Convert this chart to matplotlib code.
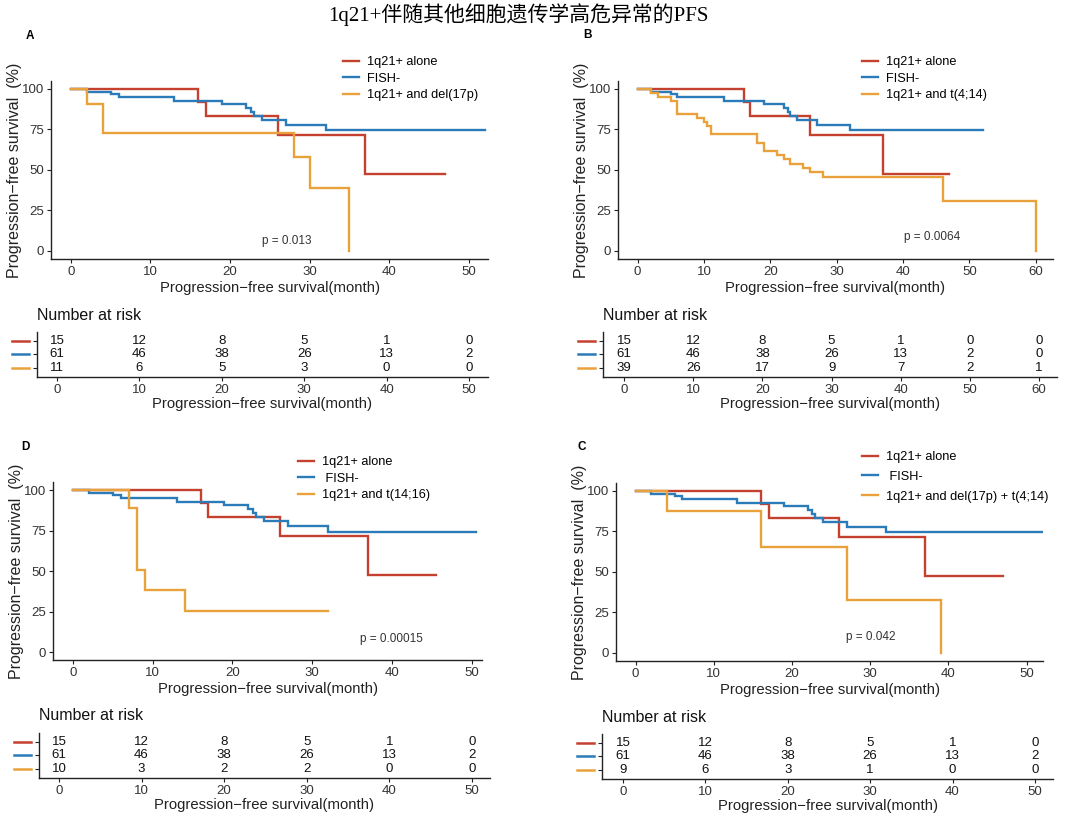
import matplotlib
matplotlib.use('Agg')
import matplotlib.pyplot as plt
from matplotlib.lines import Line2D

plt.rcParams['font.family'] = ['Liberation Sans', 'DejaVu Sans']

# ---- data ----
# shared curves (same in every panel)
t_alone = [0, 16, 17, 26, 37, 47]
s_alone = [100, 91.7, 83.3, 71.4, 47.6, 47.6]
t_fish = [0, 2, 5, 6, 13, 19, 22, 22.6, 23, 24, 27, 32, 52]
s_fish = [100, 98.4, 96.7, 94.9, 92.8, 90.5, 88.2, 85.8, 83.3, 80.6, 77.9, 74.4, 74.4]

# A: del(17p)
t_a = [0, 2, 4, 28, 30, 35]
s_a = [100, 90.9, 72.7, 58.2, 38.8, 0]
# B: t(4;14)
t_b = [0, 2, 3, 5, 6, 9, 10, 10.5, 11, 18, 19, 21, 22, 23, 25, 26, 28, 46, 60]
s_b = [100, 97.4, 94.9, 92.3, 84.6, 82.1, 79.5, 76.9, 72.2, 66.3, 61.6, 58.9, 56.4,
       53.4, 51.3, 48.7, 45.8, 30.5, 0]
# D: t(14;16)
t_d = [0, 7, 8, 9, 14, 32]
s_d = [100, 88.9, 50.8, 38.1, 25.4, 25.4]
t_alone_d = [0, 16, 17, 26, 37, 45.5]
t_fish_d = [0, 2, 5, 6, 13, 19, 22, 22.6, 23, 24, 27, 32, 50.5]
# C: del(17p) + t(4;14)
t_c = [0, 4, 16, 27, 39]
s_c = [100, 87.5, 65.6, 32.8, 0]

# numbers at risk
ticks50 = [0, 10, 20, 30, 40, 50]
ticks60 = [0, 10, 20, 30, 40, 50, 60]
risk_alone = [15, 12, 8, 5, 1, 0]
risk_fish = [61, 46, 38, 26, 13, 2]
risk_alone_b = [15, 12, 8, 5, 1, 0, 0]
risk_fish_b = [61, 46, 38, 26, 13, 2, 0]
risk_a = [11, 6, 5, 3, 0, 0]
risk_b = [39, 26, 17, 9, 7, 2, 1]
risk_d = [10, 3, 2, 2, 0, 0]
risk_c = [9, 6, 3, 1, 0, 0]

labels_a = ['1q21+ alone', 'FISH-', '1q21+ and del(17p)']
labels_b = ['1q21+ alone', 'FISH-', '1q21+ and t(4;14)']
labels_d = ['1q21+ alone', ' FISH-', '1q21+ and t(14;16)']
labels_c = ['1q21+ alone', ' FISH-', '1q21+ and del(17p) + t(4;14)']

RED, BLUE, ORANGE = '#C4402F', '#2C7BB9', '#E9A23B'
colors = [RED, BLUE, ORANGE]
TXT = '#333333'

W, H = 1080, 818
fig = plt.figure(figsize=(10.8, 8.18), dpi=100)


def box(l, t, r, b):
    return [l / W, 1 - b / H, (r - l) / W, (b - t) / H]


def style(ax):
    for s in ['top', 'right']:
        ax.spines[s].set_visible(False)
    for s in ['left', 'bottom']:
        ax.spines[s].set_color('#222222')
        ax.spines[s].set_linewidth(1.0)
    ax.tick_params(length=3, width=0.8, color='#222222', labelcolor=TXT, pad=2)


def km_panel(rect, curves, xlim, xticks, labels, leg_xy, lspace, ptxt, pxy,
             letter, letter_xy):
    ax = fig.add_axes(box(*rect))
    for (t, s), c in zip(curves, colors):
        ax.step(t, s, where='post', color=c, lw=1.7, solid_joinstyle='miter')
    ax.set_xlim(*xlim)
    ax.set_ylim(-5, 105)
    ax.set_xticks(xticks)
    ax.set_yticks([0, 25, 50, 75, 100])
    style(ax)
    ax.tick_params(labelsize=9.5)
    ax.set_xlabel('Progression\u2212free survival(month)', fontsize=10.7, labelpad=2,
                  color='#222222')
    ax.set_ylabel('Progression\u2212free survival  (%)', fontsize=11.5, labelpad=0,
                  color='#222222')
    ax.text(pxy[0], pxy[1], ptxt, fontsize=8.5, color=TXT, ha='center', va='center')
    handles = [Line2D([], [], color=c, lw=1.7) for c in colors]
    ax.legend(handles, labels, loc='upper left', bbox_to_anchor=(leg_xy[0] / W, 1 - leg_xy[1] / H),
              bbox_transform=fig.transFigure, frameon=False, fontsize=9.2,
              handlelength=1.25, handletextpad=0.6, labelspacing=lspace,
              borderpad=0, borderaxespad=0)
    fig.text(letter_xy[0] / W, 1 - letter_xy[1] / H, letter, fontsize=8.5,
             fontweight='bold', ha='center', va='center')
    return ax


def risk_panel(rect, ticks, rows, xlim, title_xy):
    ax = fig.add_axes(box(*rect))
    ys = [3, 2, 1]
    for row, y in zip(rows, ys):
        for x, n in zip(ticks, row):
            ax.text(x, y, str(n), ha='center', va='center', fontsize=9.5, color='#111111')
    ax.set_xlim(*xlim)
    ax.set_ylim(0.35, 3.65)
    ax.set_xticks(ticks)
    ax.set_yticks(ys)
    ax.set_yticklabels([])
    style(ax)
    ax.tick_params(labelsize=9.5)
    ax.set_xlabel('Progression\u2212free survival(month)', fontsize=10.7, labelpad=1,
                  color='#222222')
    # coloured dashes standing in for the strata labels
    tr = ax.get_yaxis_transform()
    for y, c in zip(ys, colors):
        ax.add_line(Line2D([-0.055, -0.017], [y, y], transform=tr, color=c, lw=1.8,
                           clip_on=False))
    fig.text(title_xy[0] / W, 1 - title_xy[1] / H, 'Number at risk', fontsize=11.5,
             ha='left', va='center', color='#111111')
    return ax


# A
km_panel((51, 80.9, 488, 258.8),
         [(t_alone, s_alone), (t_fish, s_fish), (t_a, s_a)],
         (-2.5, 52.4), ticks50, labels_a, (343, 56), 0.36, 'p = 0.013', (27.1, 6),
         'A', (30, 36))
risk_panel((37, 331.9, 488, 376.8), ticks50, [risk_alone, risk_fish, risk_a],
           (-2.43, 52.3), (37, 315))

# B
km_panel((617.7, 80.9, 1053, 258.8),
         [(t_alone, s_alone), (t_fish, s_fish), (t_b, s_b)],
         (-3.0, 62.6), ticks60, labels_b, (862, 56), 0.36, 'p = 0.0064', (44.4, 8.5),
         'B', (587, 35))
risk_panel((603, 331.9, 1057, 376.8), ticks60, [risk_alone_b, risk_fish_b, risk_b],
           (-3.06, 62.6), (603, 315))

# D
km_panel((53, 481.9, 482, 660.4),
         [(t_alone_d, s_alone), (t_fish_d, s_fish), (t_d, s_d)],
         (-2.5, 51.3), ticks50, labels_d, (298, 456), 0.36, 'p = 0.00015', (40, 8.2),
         'D', (25, 447))
risk_panel((39, 732.8, 490, 777.9), ticks50, [risk_alone, risk_fish, risk_d],
           (-2.42, 52.2), (39, 716))

# C
km_panel((616, 482.9, 1043, 660.8),
         [(t_alone, s_alone), (t_fish, s_fish), (t_c, s_c)],
         (-2.5, 52.1), ticks50, labels_c, (862, 451), 0.62, 'p = 0.042', (30.1, 9.7),
         'C', (582, 447))
risk_panel((602, 733.8, 1053, 778.9), ticks50, [risk_alone, risk_fish, risk_c],
           (-2.55, 52.2), (602, 718))

fig.text(518 / W, 1 - 15 / H, '1q21+伴随其他细胞遗传学高危异常的PFS', fontsize=15,
         ha='center', va='center', family=['Liberation Serif', 'Noto Sans CJK SC'])

fig.savefig('out.png', dpi=100)
